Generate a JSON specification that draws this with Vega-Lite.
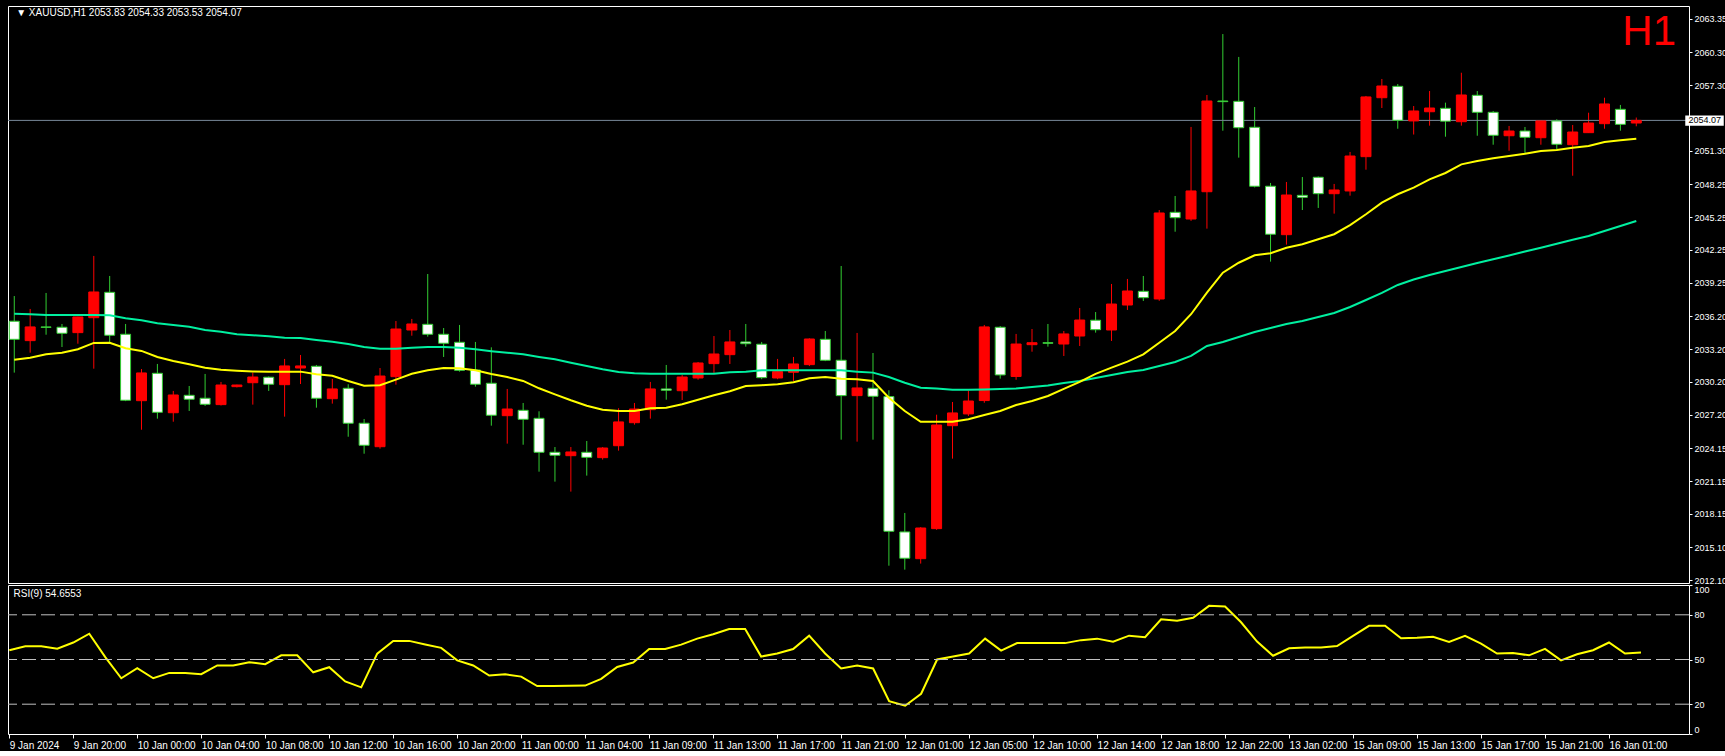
{
"$schema": "https://vega.github.io/schema/vega-lite/v6.json",
"background": "#000000",
"padding": {"left": 4, "top": 5, "right": 0, "bottom": 0},
"spacing": 2,
"bounds": "flush",
"config": {"view": {"stroke": "#ffffff", "strokeWidth": 1},
 "axis": {"labelOverlap": false, "domain": false, "grid": false, "tickColor": "#ffffff", "labelColor": "#ffffff", "labelFont": "Liberation Sans", "labelFontSize": 9, "labelPadding": 2, "labelBound": false, "title": null}},
"datasets": {
"one": [{"k": 1}],
"candles": [
{"i":0,"o":2035.74,"h":2038.04,"l":2031.05,"c":2034.09},
{"i":1,"o":2033.97,"h":2036.86,"l":2032.87,"c":2035.22},
{"i":2,"o":2035.22,"h":2038.32,"l":2034.51,"c":2035.18},
{"i":3,"o":2035.19,"h":2035.49,"l":2033.39,"c":2034.64},
{"i":4,"o":2034.70,"h":2036.15,"l":2033.69,"c":2036.13},
{"i":5,"o":2036.06,"h":2041.70,"l":2031.41,"c":2038.41},
{"i":6,"o":2038.38,"h":2039.87,"l":2033.78,"c":2034.46},
{"i":7,"o":2034.55,"h":2035.49,"l":2028.45,"c":2028.53},
{"i":8,"o":2028.49,"h":2031.38,"l":2025.84,"c":2031.02},
{"i":9,"o":2030.99,"h":2031.84,"l":2026.85,"c":2027.43},
{"i":10,"o":2027.39,"h":2029.38,"l":2026.57,"c":2029.01},
{"i":11,"o":2028.98,"h":2029.83,"l":2027.55,"c":2028.62},
{"i":12,"o":2028.71,"h":2030.93,"l":2028.01,"c":2028.16},
{"i":13,"o":2028.13,"h":2030.20,"l":2028.05,"c":2029.92},
{"i":14,"o":2029.77,"h":2029.95,"l":2029.70,"c":2029.92},
{"i":15,"o":2030.13,"h":2031.05,"l":2028.13,"c":2030.65},
{"i":16,"o":2030.63,"h":2030.70,"l":2029.38,"c":2029.99},
{"i":17,"o":2029.95,"h":2032.30,"l":2027.03,"c":2031.66},
{"i":18,"o":2031.47,"h":2032.66,"l":2030.01,"c":2031.66},
{"i":19,"o":2031.63,"h":2031.75,"l":2027.85,"c":2028.71},
{"i":20,"o":2028.67,"h":2030.47,"l":2028.22,"c":2029.56},
{"i":21,"o":2029.62,"h":2029.99,"l":2025.20,"c":2026.43},
{"i":22,"o":2026.43,"h":2026.82,"l":2023.65,"c":2024.42},
{"i":23,"o":2024.29,"h":2031.47,"l":2024.11,"c":2030.74},
{"i":24,"o":2030.68,"h":2035.76,"l":2029.95,"c":2035.03},
{"i":25,"o":2034.94,"h":2035.95,"l":2034.42,"c":2035.49},
{"i":26,"o":2035.46,"h":2040.05,"l":2034.33,"c":2034.55},
{"i":27,"o":2034.55,"h":2035.12,"l":2032.48,"c":2033.73},
{"i":28,"o":2033.82,"h":2035.40,"l":2031.14,"c":2031.26},
{"i":29,"o":2031.29,"h":2033.85,"l":2029.77,"c":2029.99},
{"i":30,"o":2030.08,"h":2033.36,"l":2026.21,"c":2027.16},
{"i":31,"o":2027.12,"h":2029.56,"l":2024.57,"c":2027.73},
{"i":32,"o":2027.61,"h":2028.28,"l":2024.47,"c":2026.79},
{"i":33,"o":2026.88,"h":2027.52,"l":2022.01,"c":2023.78},
{"i":34,"o":2023.78,"h":2024.26,"l":2021.10,"c":2023.51},
{"i":35,"o":2023.47,"h":2024.26,"l":2020.19,"c":2023.81},
{"i":36,"o":2023.78,"h":2024.81,"l":2021.65,"c":2023.32},
{"i":37,"o":2023.29,"h":2024.26,"l":2023.11,"c":2024.17},
{"i":38,"o":2024.38,"h":2027.80,"l":2023.93,"c":2026.55},
{"i":39,"o":2026.48,"h":2028.28,"l":2026.30,"c":2027.73},
{"i":40,"o":2027.67,"h":2030.20,"l":2026.85,"c":2029.56},
{"i":41,"o":2029.56,"h":2031.75,"l":2028.58,"c":2029.44},
{"i":42,"o":2029.40,"h":2030.84,"l":2028.55,"c":2030.65},
{"i":43,"o":2030.56,"h":2032.02,"l":2030.40,"c":2031.93},
{"i":44,"o":2031.87,"h":2034.39,"l":2031.02,"c":2032.75},
{"i":45,"o":2032.69,"h":2034.94,"l":2031.84,"c":2033.85},
{"i":46,"o":2033.85,"h":2035.49,"l":2033.42,"c":2033.69},
{"i":47,"o":2033.64,"h":2033.85,"l":2030.45,"c":2030.59},
{"i":48,"o":2030.56,"h":2032.30,"l":2030.45,"c":2031.14},
{"i":49,"o":2031.08,"h":2032.48,"l":2030.29,"c":2031.84},
{"i":50,"o":2031.78,"h":2034.18,"l":2031.65,"c":2034.12},
{"i":51,"o":2034.09,"h":2034.85,"l":2032.10,"c":2032.18},
{"i":52,"o":2032.18,"h":2040.78,"l":2024.93,"c":2028.95},
{"i":53,"o":2028.95,"h":2034.67,"l":2024.75,"c":2029.65},
{"i":54,"o":2029.62,"h":2032.84,"l":2024.93,"c":2028.89},
{"i":55,"o":2028.86,"h":2029.44,"l":2013.43,"c":2016.57},
{"i":56,"o":2016.51,"h":2018.24,"l":2013.07,"c":2014.11},
{"i":57,"o":2014.07,"h":2016.95,"l":2013.62,"c":2016.87},
{"i":58,"o":2016.81,"h":2027.21,"l":2016.70,"c":2026.27},
{"i":59,"o":2026.21,"h":2028.37,"l":2023.20,"c":2027.37},
{"i":60,"o":2027.28,"h":2029.40,"l":2027.09,"c":2028.46},
{"i":61,"o":2028.50,"h":2035.40,"l":2028.30,"c":2035.22},
{"i":62,"o":2035.19,"h":2035.30,"l":2030.50,"c":2030.84},
{"i":63,"o":2030.70,"h":2034.58,"l":2030.40,"c":2033.66},
{"i":64,"o":2033.60,"h":2035.03,"l":2032.96,"c":2033.78},
{"i":65,"o":2033.78,"h":2035.49,"l":2033.42,"c":2033.73},
{"i":66,"o":2033.66,"h":2034.85,"l":2032.57,"c":2034.58},
{"i":67,"o":2034.39,"h":2036.95,"l":2033.48,"c":2035.85},
{"i":68,"o":2035.83,"h":2036.58,"l":2034.70,"c":2034.97},
{"i":69,"o":2034.94,"h":2039.14,"l":2033.94,"c":2037.31},
{"i":70,"o":2037.22,"h":2039.60,"l":2036.77,"c":2038.50},
{"i":71,"o":2038.47,"h":2039.87,"l":2037.59,"c":2037.89},
{"i":72,"o":2037.77,"h":2045.89,"l":2037.60,"c":2045.62},
{"i":73,"o":2045.68,"h":2047.17,"l":2043.91,"c":2045.19},
{"i":74,"o":2045.07,"h":2053.47,"l":2044.90,"c":2047.63},
{"i":75,"o":2047.56,"h":2056.39,"l":2044.19,"c":2055.84},
{"i":76,"o":2055.84,"h":2061.95,"l":2053.13,"c":2055.78},
{"i":77,"o":2055.81,"h":2059.86,"l":2050.67,"c":2053.40},
{"i":78,"o":2053.44,"h":2055.29,"l":2047.95,"c":2048.06},
{"i":79,"o":2048.06,"h":2048.36,"l":2041.18,"c":2043.68},
{"i":80,"o":2043.64,"h":2048.45,"l":2042.73,"c":2047.26},
{"i":81,"o":2047.23,"h":2048.90,"l":2045.89,"c":2047.05},
{"i":82,"o":2048.88,"h":2048.95,"l":2046.08,"c":2047.38},
{"i":83,"o":2047.38,"h":2048.27,"l":2045.56,"c":2047.72},
{"i":84,"o":2047.63,"h":2051.19,"l":2047.20,"c":2050.82},
{"i":85,"o":2050.76,"h":2056.30,"l":2049.57,"c":2056.21},
{"i":86,"o":2056.14,"h":2057.85,"l":2055.20,"c":2057.21},
{"i":87,"o":2057.18,"h":2057.39,"l":2053.31,"c":2054.08},
{"i":88,"o":2054.02,"h":2055.38,"l":2052.78,"c":2054.93},
{"i":89,"o":2054.86,"h":2056.75,"l":2053.59,"c":2055.20},
{"i":90,"o":2055.17,"h":2055.69,"l":2052.58,"c":2054.00},
{"i":91,"o":2053.95,"h":2058.42,"l":2053.59,"c":2056.39},
{"i":92,"o":2056.36,"h":2056.75,"l":2052.67,"c":2054.81},
{"i":93,"o":2054.81,"h":2054.93,"l":2051.85,"c":2052.71},
{"i":94,"o":2052.67,"h":2053.56,"l":2051.30,"c":2053.10},
{"i":95,"o":2053.10,"h":2053.47,"l":2051.03,"c":2052.53},
{"i":96,"o":2052.49,"h":2054.05,"l":2051.85,"c":2054.02},
{"i":97,"o":2054.02,"h":2054.17,"l":2051.43,"c":2051.89},
{"i":98,"o":2051.85,"h":2053.65,"l":2049.02,"c":2053.01},
{"i":99,"o":2052.95,"h":2054.77,"l":2052.92,"c":2053.83},
{"i":100,"o":2053.77,"h":2056.14,"l":2053.31,"c":2055.57},
{"i":101,"o":2055.08,"h":2055.48,"l":2053.13,"c":2053.71},
{"i":102,"o":2053.83,"h":2054.33,"l":2053.53,"c":2054.07}
],
"ma": [
{"i":0,"fast":2032.23,"slow":2036.43},{"i":1,"fast":2032.41,"slow":2036.38},{"i":2,"fast":2032.72,"slow":2036.31},{"i":3,"fast":2032.87,"slow":2036.31},{"i":4,"fast":2033.18,"slow":2036.31},{"i":5,"fast":2033.76,"slow":2036.31},{"i":6,"fast":2033.78,"slow":2036.28},{"i":7,"fast":2033.27,"slow":2036.01},{"i":8,"fast":2033.03,"slow":2035.83},{"i":9,"fast":2032.48,"slow":2035.55},
{"i":10,"fast":2032.11,"slow":2035.40},{"i":11,"fast":2031.81,"slow":2035.24},{"i":12,"fast":2031.50,"slow":2034.94},{"i":13,"fast":2031.32,"slow":2034.79},{"i":14,"fast":2031.23,"slow":2034.55},{"i":15,"fast":2031.16,"slow":2034.46},{"i":16,"fast":2031.14,"slow":2034.37},{"i":17,"fast":2031.14,"slow":2034.24},{"i":18,"fast":2031.14,"slow":2034.21},{"i":19,"fast":2030.90,"slow":2034.03},
{"i":20,"fast":2030.77,"slow":2033.87},{"i":21,"fast":2030.29,"slow":2033.66},{"i":22,"fast":2029.86,"slow":2033.39},{"i":23,"fast":2029.90,"slow":2033.24},{"i":24,"fast":2030.41,"slow":2033.24},{"i":25,"fast":2030.95,"slow":2033.33},{"i":26,"fast":2031.26,"slow":2033.39},{"i":27,"fast":2031.47,"slow":2033.39},{"i":28,"fast":2031.45,"slow":2033.33},{"i":29,"fast":2031.26,"slow":2033.18},
{"i":30,"fast":2030.93,"slow":2033.01},{"i":31,"fast":2030.65,"slow":2032.87},{"i":32,"fast":2030.29,"slow":2032.72},{"i":33,"fast":2029.62,"slow":2032.48},{"i":34,"fast":2029.07,"slow":2032.27},{"i":35,"fast":2028.53,"slow":2031.96},{"i":36,"fast":2028.03,"slow":2031.66},{"i":37,"fast":2027.67,"slow":2031.36},{"i":38,"fast":2027.55,"slow":2031.11},{"i":39,"fast":2027.55,"slow":2030.99},
{"i":40,"fast":2027.80,"slow":2030.95},{"i":41,"fast":2027.85,"slow":2030.95},{"i":42,"fast":2028.16,"slow":2030.95},{"i":43,"fast":2028.58,"slow":2030.95},{"i":44,"fast":2028.98,"slow":2030.95},{"i":45,"fast":2029.35,"slow":2031.09},{"i":46,"fast":2029.83,"slow":2031.14},{"i":47,"fast":2029.90,"slow":2031.26},{"i":48,"fast":2029.99,"slow":2031.26},{"i":49,"fast":2030.17,"slow":2031.26},
{"i":50,"fast":2030.53,"slow":2031.26},{"i":51,"fast":2030.65,"slow":2031.26},{"i":52,"fast":2030.50,"slow":2031.26},{"i":53,"fast":2030.44,"slow":2031.14},{"i":54,"fast":2030.29,"slow":2031.05},{"i":55,"fast":2028.76,"slow":2030.65},{"i":56,"fast":2027.55,"slow":2030.13},{"i":57,"fast":2026.57,"slow":2029.68},{"i":58,"fast":2026.57,"slow":2029.59},{"i":59,"fast":2026.57,"slow":2029.49},
{"i":60,"fast":2026.79,"slow":2029.49},{"i":61,"fast":2027.19,"slow":2029.51},{"i":62,"fast":2027.55,"slow":2029.56},{"i":63,"fast":2028.10,"slow":2029.60},{"i":64,"fast":2028.46,"slow":2029.74},{"i":65,"fast":2028.92,"slow":2029.88},{"i":66,"fast":2029.56,"slow":2030.11},{"i":67,"fast":2030.20,"slow":2030.29},{"i":68,"fast":2030.93,"slow":2030.56},{"i":69,"fast":2031.50,"slow":2030.84},
{"i":70,"fast":2032.05,"slow":2031.11},{"i":71,"fast":2032.72,"slow":2031.29},{"i":72,"fast":2033.78,"slow":2031.66},{"i":73,"fast":2034.85,"slow":2032.02},{"i":74,"fast":2036.38,"slow":2032.57},{"i":75,"fast":2038.35,"slow":2033.48},{"i":76,"fast":2040.17,"slow":2033.85},{"i":77,"fast":2041.08,"slow":2034.30},{"i":78,"fast":2041.76,"slow":2034.76},{"i":79,"fast":2041.94,"slow":2035.12},
{"i":80,"fast":2042.45,"slow":2035.49},{"i":81,"fast":2042.76,"slow":2035.76},{"i":82,"fast":2043.22,"slow":2036.13},{"i":83,"fast":2043.68,"slow":2036.49},{"i":84,"fast":2044.52,"slow":2037.04},{"i":85,"fast":2045.50,"slow":2037.68},{"i":86,"fast":2046.56,"slow":2038.32},{"i":87,"fast":2047.33,"slow":2039.05},{"i":88,"fast":2047.93,"slow":2039.55},{"i":89,"fast":2048.69,"slow":2039.96},
{"i":90,"fast":2049.27,"slow":2040.33},{"i":91,"fast":2050.06,"slow":2040.69},{"i":92,"fast":2050.36,"slow":2041.06},{"i":93,"fast":2050.61,"slow":2041.39},{"i":94,"fast":2050.82,"slow":2041.74},{"i":95,"fast":2051.03,"slow":2042.11},{"i":96,"fast":2051.28,"slow":2042.45},{"i":97,"fast":2051.37,"slow":2042.82},{"i":98,"fast":2051.58,"slow":2043.18},{"i":99,"fast":2051.73,"slow":2043.52},
{"i":100,"fast":2052.10,"slow":2043.98},{"i":101,"fast":2052.25,"slow":2044.43},{"i":102,"fast":2052.40,"slow":2044.89}
],
"rsi": [
{"i":0,"v":56.2},{"i":1,"v":58.9},{"i":2,"v":58.9},{"i":3,"v":57.3},{"i":4,"v":61.4},{"i":5,"v":67.3},{"i":6,"v":51.6},{"i":7,"v":37.4},{"i":8,"v":44.2},{"i":9,"v":37.4},
{"i":10,"v":41.0},{"i":11,"v":41.0},{"i":12,"v":40.1},{"i":13,"v":46.0},{"i":14,"v":46.0},{"i":15,"v":48.2},{"i":16,"v":46.9},{"i":17,"v":52.8},{"i":18,"v":52.8},{"i":19,"v":41.4},
{"i":20,"v":44.8},{"i":21,"v":35.3},{"i":22,"v":31.3},{"i":23,"v":53.9},{"i":24,"v":62.5},{"i":25,"v":62.5},{"i":26,"v":60.1},{"i":27,"v":57.8},{"i":28,"v":49.4},{"i":29,"v":46.0},
{"i":30,"v":39.2},{"i":31,"v":40.1},{"i":32,"v":38.5},{"i":33,"v":32.2},{"i":34,"v":32.2},{"i":35,"v":32.4},{"i":36,"v":32.5},{"i":37,"v":37},{"i":38,"v":45},{"i":39,"v":48},
{"i":40,"v":57},{"i":41,"v":57},{"i":42,"v":60},{"i":43,"v":64},{"i":44,"v":67},{"i":45,"v":70.5},{"i":46,"v":70.5},{"i":47,"v":52},{"i":48,"v":54},{"i":49,"v":57},
{"i":50,"v":66},{"i":51,"v":54},{"i":52,"v":44},{"i":53,"v":46},{"i":54,"v":44},{"i":55,"v":22},{"i":56,"v":19},{"i":57,"v":27},{"i":58,"v":50},{"i":59,"v":52},
{"i":60,"v":54},{"i":61,"v":64},{"i":62,"v":56},{"i":63,"v":61},{"i":64,"v":61},{"i":65,"v":61},{"i":66,"v":61},{"i":67,"v":63},{"i":68,"v":64},{"i":69,"v":62},
{"i":70,"v":66},{"i":71,"v":65},{"i":72,"v":77},{"i":73,"v":76},{"i":74,"v":78},{"i":75,"v":86},{"i":76,"v":85.5},{"i":77,"v":75},{"i":78,"v":62},{"i":79,"v":52.5},
{"i":80,"v":57.5},{"i":81,"v":58},{"i":82,"v":58},{"i":83,"v":59},{"i":84,"v":65.8},{"i":85,"v":72.6},{"i":86,"v":72.6},{"i":87,"v":64.3},{"i":88,"v":64.6},{"i":89,"v":65.2},
{"i":90,"v":61.8},{"i":91,"v":65.9},{"i":92,"v":60.7},{"i":93,"v":54.0},{"i":94,"v":54.4},{"i":95,"v":52.8},{"i":96,"v":57.1},{"i":97,"v":49.4},{"i":98,"v":53.5},{"i":99,"v":56.2},
{"i":100,"v":61.4},{"i":101,"v":54.0},{"i":102,"v":54.66}
],
"levels": [{"lv":20},{"lv":50},{"lv":80}]
},
"vconcat": [
{
"width": 1681, "height": 577,
"layer": [
{"data": {"name": "candles"},
 "mark": {"type": "rule", "strokeWidth": 1},
 "encoding": {
  "x": {"field": "i", "type": "quantitative", "scale": {"domain": [-0.08, 105.0], "nice": false, "zero": false}, "axis": null},
  "y": {"field": "l", "type": "quantitative", "scale": {"domain": [2011.85, 2064.51], "zero": false, "nice": false},
   "axis": {"orient": "right", "values": [2012.10, 2015.10, 2018.15, 2021.15, 2024.15, 2027.20, 2030.20, 2033.20, 2036.20, 2039.25, 2042.25, 2045.25, 2048.25, 2051.30, 2057.30, 2060.30, 2063.35], "format": ".2f", "tickSize": 3, "labelAlign": "left", "labelBaseline": "middle", "labelOverlap": false, "labelFlush": false}},
  "y2": {"field": "h"},
  "color": {"condition": {"test": "datum.c > datum.o", "value": "#ff0000"}, "value": "#32cd32"}
 }},
{"data": {"name": "one"},
 "mark": {"type": "rule", "color": "#778899", "strokeWidth": 1},
 "encoding": {"y": {"datum": 2054.07, "type": "quantitative",
   "axis": {"orient": "right", "values": [2012.10, 2015.10, 2018.15, 2021.15, 2024.15, 2027.20, 2030.20, 2033.20, 2036.20, 2039.25, 2042.25, 2045.25, 2048.25, 2051.30, 2057.30, 2060.30, 2063.35], "format": ".2f", "tickSize": 3, "labelAlign": "left", "labelBaseline": "middle", "labelOverlap": false, "labelFlush": false}}}},
{"data": {"name": "candles"},
 "mark": {"type": "bar", "width": 10, "strokeWidth": 1},
 "encoding": {
  "x": {"field": "i", "type": "quantitative", "axis": null},
  "y": {"field": "o", "type": "quantitative",
   "axis": {"orient": "right", "values": [2012.10, 2015.10, 2018.15, 2021.15, 2024.15, 2027.20, 2030.20, 2033.20, 2036.20, 2039.25, 2042.25, 2045.25, 2048.25, 2051.30, 2057.30, 2060.30, 2063.35], "format": ".2f", "tickSize": 3, "labelAlign": "left", "labelBaseline": "middle", "labelOverlap": false, "labelFlush": false}},
  "y2": {"field": "c"},
  "fill": {"condition": {"test": "datum.c > datum.o", "value": "#ff0000"}, "value": "#ffffff"},
  "stroke": {"condition": {"test": "datum.c > datum.o", "value": "#ff0000"}, "value": "#32cd32"}
 }},
{"data": {"name": "ma"},
 "mark": {"type": "line", "color": "#00f0a0", "strokeWidth": 2},
 "encoding": {"x": {"field": "i", "type": "quantitative", "axis": null}, "y": {"field": "slow", "type": "quantitative",
   "axis": {"orient": "right", "values": [2012.10, 2015.10, 2018.15, 2021.15, 2024.15, 2027.20, 2030.20, 2033.20, 2036.20, 2039.25, 2042.25, 2045.25, 2048.25, 2051.30, 2057.30, 2060.30, 2063.35], "format": ".2f", "tickSize": 3, "labelAlign": "left", "labelBaseline": "middle", "labelOverlap": false, "labelFlush": false}}}},
{"data": {"name": "ma"},
 "mark": {"type": "line", "color": "#ffff00", "strokeWidth": 2},
 "encoding": {"x": {"field": "i", "type": "quantitative", "axis": null}, "y": {"field": "fast", "type": "quantitative",
   "axis": {"orient": "right", "values": [2012.10, 2015.10, 2018.15, 2021.15, 2024.15, 2027.20, 2030.20, 2033.20, 2036.20, 2039.25, 2042.25, 2045.25, 2048.25, 2051.30, 2057.30, 2060.30, 2063.35], "format": ".2f", "tickSize": 3, "labelAlign": "left", "labelBaseline": "middle", "labelOverlap": false, "labelFlush": false}}}},
{"data": {"name": "one"},
 "mark": {"type": "text", "text": "▼ XAUUSD,H1  2053.83 2054.33 2053.53 2054.07", "color": "#ffffff", "font": "Liberation Sans", "fontSize": 10, "align": "left", "baseline": "middle"},
 "encoding": {"x": {"datum": 0.12, "type": "quantitative", "axis": null}, "y": {"datum": 2063.84, "type": "quantitative",
   "axis": {"orient": "right", "values": [2012.10, 2015.10, 2018.15, 2021.15, 2024.15, 2027.20, 2030.20, 2033.20, 2036.20, 2039.25, 2042.25, 2045.25, 2048.25, 2051.30, 2057.30, 2060.30, 2063.35], "format": ".2f", "tickSize": 3, "labelAlign": "left", "labelBaseline": "middle", "labelOverlap": false, "labelFlush": false}}}},
{"data": {"name": "one"},
 "mark": {"type": "text", "text": "H1", "color": "#ff0000", "fontSize": 42, "align": "right", "baseline": "middle", "font": "Liberation Sans"},
 "encoding": {"x": {"datum": 104.5, "type": "quantitative", "axis": null}, "y": {"datum": 2062.1, "type": "quantitative",
   "axis": {"orient": "right", "values": [2012.10, 2015.10, 2018.15, 2021.15, 2024.15, 2027.20, 2030.20, 2033.20, 2036.20, 2039.25, 2042.25, 2045.25, 2048.25, 2051.30, 2057.30, 2060.30, 2063.35], "format": ".2f", "tickSize": 3, "labelAlign": "left", "labelBaseline": "middle", "labelOverlap": false, "labelFlush": false}}}},
{"data": {"name": "one"},
 "mark": {"type": "rect", "fill": "#ffffff"},
 "encoding": {"x": {"datum": 105.08, "type": "quantitative", "axis": null}, "x2": {"datum": 107.5}, "y": {"datum": 2054.52, "type": "quantitative",
   "axis": {"orient": "right", "values": [2012.10, 2015.10, 2018.15, 2021.15, 2024.15, 2027.20, 2030.20, 2033.20, 2036.20, 2039.25, 2042.25, 2045.25, 2048.25, 2051.30, 2057.30, 2060.30, 2063.35], "format": ".2f", "tickSize": 3, "labelAlign": "left", "labelBaseline": "middle", "labelOverlap": false, "labelFlush": false}}, "y2": {"datum": 2053.58}}},
{"data": {"name": "one"},
 "mark": {"type": "text", "text": "2054.07", "color": "#000000", "font": "Liberation Sans", "fontSize": 9, "align": "left", "baseline": "middle"},
 "encoding": {"x": {"datum": 105.28, "type": "quantitative", "axis": null}, "y": {"datum": 2054.07, "type": "quantitative",
   "axis": {"orient": "right", "values": [2012.10, 2015.10, 2018.15, 2021.15, 2024.15, 2027.20, 2030.20, 2033.20, 2036.20, 2039.25, 2042.25, 2045.25, 2048.25, 2051.30, 2057.30, 2060.30, 2063.35], "format": ".2f", "tickSize": 3, "labelAlign": "left", "labelBaseline": "middle", "labelOverlap": false, "labelFlush": false}}}}
]
},
{
"width": 1681, "height": 149,
"layer": [
{"data": {"name": "rsi"},
 "mark": {"type": "line", "color": "#ffff00", "strokeWidth": 2},
 "encoding": {
  "x": {"field": "i", "type": "quantitative", "scale": {"domain": [-0.08, 105.0], "nice": false, "zero": false},
   "axis": {"orient": "bottom", "values": [0,4,8,12,16,20,24,28,32,36,40,44,48,52,56,60,64,68,72,76,80,84,88,92,96,100],
    "labelExpr": "['9 Jan 2024','9 Jan 20:00','10 Jan 00:00','10 Jan 04:00','10 Jan 08:00','10 Jan 12:00','10 Jan 16:00','10 Jan 20:00','11 Jan 00:00','11 Jan 04:00','11 Jan 09:00','11 Jan 13:00','11 Jan 17:00','11 Jan 21:00','12 Jan 01:00','12 Jan 05:00','12 Jan 10:00','12 Jan 14:00','12 Jan 18:00','12 Jan 22:00','13 Jan 02:00','15 Jan 09:00','15 Jan 13:00','15 Jan 17:00','15 Jan 21:00','16 Jan 01:00'][round(datum.value/4)]",
    "tickSize": 4, "labelFontSize": 10, "labelAlign": "left", "labelBaseline": "top", "labelOverlap": false, "labelFlush": false}},
  "y": {"field": "v", "type": "quantitative", "scale": {"domain": [0, 100], "nice": false},
   "axis": {"orient": "right", "values": [0, 20, 50, 80, 100], "tickSize": 3, "labelAlign": "left", "labelFlush": true, "labelOverlap": false}}
 }},
{"data": {"name": "levels"},
 "mark": {"type": "rule", "color": "#c0c0c0", "strokeWidth": 1, "strokeDash": [14, 5]},
 "encoding": {"y": {"field": "lv", "type": "quantitative",
   "axis": {"orient": "right", "values": [0, 20, 50, 80, 100], "tickSize": 3, "labelAlign": "left", "labelFlush": true, "labelOverlap": false}}}},
{"data": {"name": "one"},
 "mark": {"type": "text", "text": "RSI(9) 54.6553", "color": "#ffffff", "font": "Liberation Sans", "fontSize": 10, "align": "left", "baseline": "middle"},
 "encoding": {"x": {"datum": 0.27, "type": "quantitative",
   "axis": {"orient": "bottom", "values": [0,4,8,12,16,20,24,28,32,36,40,44,48,52,56,60,64,68,72,76,80,84,88,92,96,100],
    "labelExpr": "['9 Jan 2024','9 Jan 20:00','10 Jan 00:00','10 Jan 04:00','10 Jan 08:00','10 Jan 12:00','10 Jan 16:00','10 Jan 20:00','11 Jan 00:00','11 Jan 04:00','11 Jan 09:00','11 Jan 13:00','11 Jan 17:00','11 Jan 21:00','12 Jan 01:00','12 Jan 05:00','12 Jan 10:00','12 Jan 14:00','12 Jan 18:00','12 Jan 22:00','13 Jan 02:00','15 Jan 09:00','15 Jan 13:00','15 Jan 17:00','15 Jan 21:00','16 Jan 01:00'][round(datum.value/4)]",
    "tickSize": 4, "labelFontSize": 10, "labelAlign": "left", "labelBaseline": "top", "labelOverlap": false, "labelFlush": false}},
  "y": {"datum": 93.8, "type": "quantitative",
   "axis": {"orient": "right", "values": [0, 20, 50, 80, 100], "tickSize": 3, "labelAlign": "left", "labelFlush": true, "labelOverlap": false}}}}
]
}
]
}
